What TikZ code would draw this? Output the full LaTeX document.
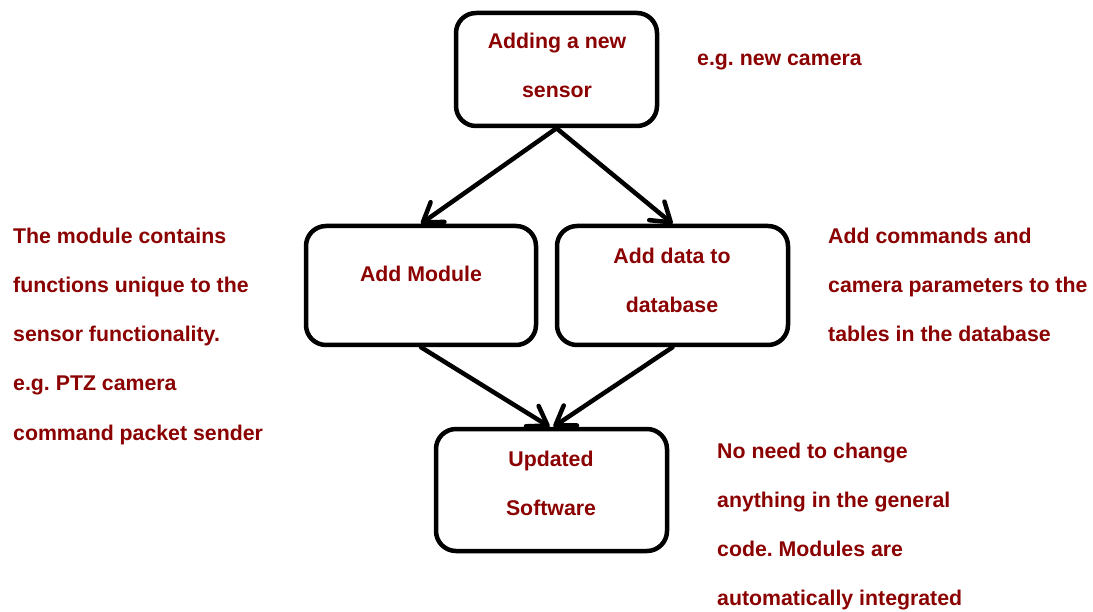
\documentclass[tikz,border=0pt]{standalone}
\usepackage{fontspec}
\setmainfont{Liberation Sans}
\usetikzlibrary{arrows.meta}
\definecolor{notered}{RGB}{139,0,0}
\frenchspacing
\tikzset{
  box/.style={draw=black, line width=4.5pt, rounded corners=20pt, inner sep=0pt},
  flow/.style={line width=4.5pt, line cap=round,
    -{Straight Barb[length=18pt, width=24pt, line width=4.5pt, round]}},
  txt/.style={inner sep=0pt, text=notered, font=\fontsize{21.3}{25}\selectfont\bfseries},
}
\begin{document}
\begin{tikzpicture}[x=1pt, y=-1pt]
  \useasboundingbox (0,0) rectangle (1093,612);
  \fill[white] (0,0) rectangle (1093,612);

  % process boxes
  \node[box, minimum width=201pt, minimum height=113pt] (new) at (556.5,69.5) {};
  \node[box, minimum width=230pt, minimum height=119pt] (mod) at (421,285.5) {};
  \node[box, minimum width=231pt, minimum height=119pt] (db)  at (672.5,285.5) {};
  \node[box, minimum width=231pt, minimum height=122pt] (upd) at (551.5,490) {};

  % box captions
  \node[txt, anchor=base] (newa) at (557,49)  {Adding a new};
  \node[txt, anchor=base] (newb) at (557,98)  {sensor};
  \node[txt, anchor=base] (moda) at (421,282) {Add Module};
  \node[txt, anchor=base] (dba)  at (672,264) {Add data to};
  \node[txt, anchor=base] (dbb)  at (672,313) {database};
  \node[txt, anchor=base] (upda) at (551,466) {Updated};
  \node[txt, anchor=base] (updb) at (551,515) {Software};

  % connectors
  \draw[flow] (new.south) -- (mod.north);
  \draw[flow] (new.south) -- (db.north);
  \draw[flow] (mod.south) -- ([xshift=-2pt]upd.north);
  \draw[flow] (db.south)  -- ([xshift=2pt]upd.north);

  % side notes
  \node[txt, anchor=base west] (cam) at (697,66) {e.g. new camera};
  \foreach \t [count=\i] in {The module contains, functions unique to the,
      sensor functionality., e.g. PTZ camera, command packet sender}
    \node[txt, anchor=base west] (left\i) at (13,{244+49*(\i-1)}) {\t};
  \foreach \t [count=\i] in {Add commands and, camera parameters to the,
      tables in the database}
    \node[txt, anchor=base west] (right\i) at (828,{244+49*(\i-1)}) {\t};
  \foreach \t [count=\i] in {No need to change, anything in the general,
      code. Modules are, automatically integrated}
    \node[txt, anchor=base west] (low\i) at (717,{458+49*(\i-1)}) {\t};
\end{tikzpicture}
\end{document}
